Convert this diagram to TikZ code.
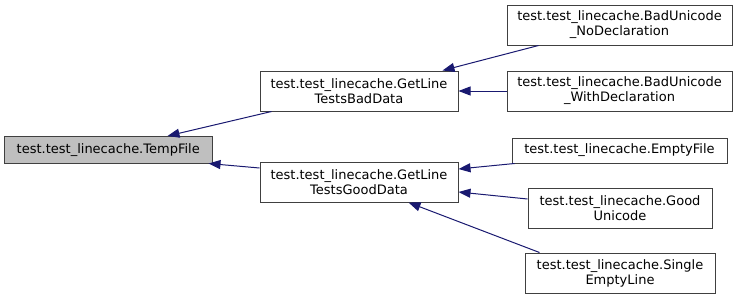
\documentclass[tikz,border=0pt]{standalone}
\usepackage{fontspec}
\setmainfont{DejaVu Sans}
\usetikzlibrary{arrows.meta}
\definecolor{edgeblue}{HTML}{191970}
\definecolor{boxline}{HTML}{404040}
\definecolor{curfill}{HTML}{BFBFBF}
\begin{document}
\begin{tikzpicture}[x=1pt,y=-1pt,
  cls/.style={draw=boxline,line width=1pt,fill=white,inner sep=0pt,align=center,
    font=\fontsize{13}{15}\selectfont},
  edge/.style={draw=edgeblue,line width=1pt,
    -{Triangle[length=12pt,width=9pt]}}]
\useasboundingbox (0,0) rectangle (739,300);

% classes
\node[cls,fill=curfill,minimum width=207.5pt,minimum height=26.5pt] (temp) at (108.25,149.75)
  {test.test\_linecache.TempFile};
\node[cls,minimum width=198pt,minimum height=40pt] (bad) at (359,91)
  {test.test\_linecache.GetLine\\TestsBadData};
\node[cls,minimum width=198pt,minimum height=40pt] (good) at (359,182)
  {test.test\_linecache.GetLine\\TestsGoodData};
\node[cls,minimum width=225pt,minimum height=40pt] (nodecl) at (619.5,25)
  {test.test\_linecache.BadUnicode\\\_NoDeclaration};
\node[cls,minimum width=225pt,minimum height=40pt] (withdecl) at (619.5,91)
  {test.test\_linecache.BadUnicode\\\_WithDeclaration};
\node[cls,minimum width=215pt,minimum height=25pt] (empty) at (619.5,150.5)
  {test.test\_linecache.EmptyFile};
\node[cls,minimum width=184pt,minimum height=40pt] (goodu) at (620,208)
  {test.test\_linecache.Good\\Unicode};
\node[cls,minimum width=190pt,minimum height=40pt] (single) at (620,273)
  {test.test\_linecache.Single\\EmptyLine};

% inheritance edges, arrow at the base class
\draw[edge] ([xshift=12pt]bad.south west) -- ([xshift=-45pt]temp.north east);
\draw[edge] ([yshift=14pt]good.west) -- ([xshift=-4pt]temp.south east);
\draw[edge] ([xshift=32pt]nodecl.south west) -- ([xshift=-16pt]bad.north east);
\draw[edge] (withdecl.west) -- (bad.east);
\draw[edge] ([xshift=3pt]empty.south west) -- ([yshift=13pt]good.east);
\draw[edge] ([yshift=9pt]goodu.west) -- ([yshift=-10pt]good.east);
\draw[edge] ([xshift=15pt]single.north west) -- ([xshift=-50pt]good.south east);
\end{tikzpicture}
\end{document}
